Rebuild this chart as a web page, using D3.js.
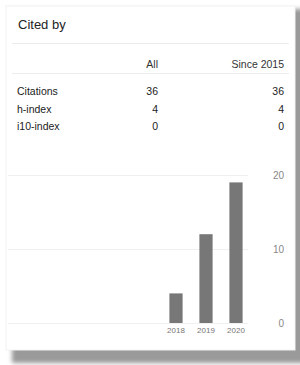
<!DOCTYPE html>
<html>
<head>
<meta charset="utf-8">
<script src="https://cdn.jsdelivr.net/npm/d3@7"></script>
<style>
  html, body { margin: 0; padding: 0; background: #fff; }
  svg { display: block; font-family: Arial, "Liberation Sans", Helvetica, sans-serif; }
</style>
</head>
<body>
<div id="chart"></div>
<script>
// table data
const columnHeaders = ["All", "Since 2015"];
const rowLabels = ["Citations", "h-index", "i10-index"];
const allValues = [36, 4, 0];
const sinceValues = [36, 4, 0];

// bar chart data
const years = ["2018", "2019", "2020"];
const citesPerYear = [4, 12, 19];
const yTicks = [0, 10, 20];

const width = 300, height = 365;

const svg = d3.select("#chart")
  .append("svg")
  .attr("width", width)
  .attr("height", height);

// drop shadow under the card
const defs = svg.append("defs");
defs.append("filter")
  .attr("id", "blur")
  .attr("x", "-10%").attr("y", "-10%")
  .attr("width", "120%").attr("height", "120%")
  .append("feGaussianBlur")
  .attr("stdDeviation", 2.2);

svg.append("rect")
  .attr("x", 12).attr("y", 9)
  .attr("width", 300).attr("height", 354)
  .attr("fill", "#9a9a9a")
  .attr("filter", "url(#blur)");

// card
svg.append("rect")
  .attr("x", 6).attr("y", 6)
  .attr("width", 289).attr("height", 344)
  .attr("fill", "#fff")
  .attr("stroke", "#f2f2f2");

// title
svg.append("text")
  .attr("x", 18).attr("y", 29)
  .attr("font-size", 13)
  .attr("fill", "#222")
  .text("Cited by");

svg.append("line")
  .attr("x1", 12).attr("x2", 289)
  .attr("y1", 43.5).attr("y2", 43.5)
  .attr("stroke", "#ececec");

// table
const colX = [158, 284];
const header = svg.append("g").attr("font-size", 10.5).attr("fill", "#333");
header.selectAll("text")
  .data(columnHeaders)
  .enter()
  .append("text")
  .attr("x", (d, i) => colX[i])
  .attr("y", 68)
  .attr("text-anchor", "end")
  .text(d => d);

svg.append("line")
  .attr("x1", 12).attr("x2", 289)
  .attr("y1", 73.5).attr("y2", 73.5)
  .attr("stroke", "#ececec");

const rowY = d3.scalePoint().domain(rowLabels).range([95, 130]);

const rows = svg.append("g")
  .attr("font-size", 10.5)
  .attr("fill", "#222")
  .selectAll("g")
  .data(rowLabels)
  .enter()
  .append("g")
  .attr("transform", d => `translate(0,${rowY(d)})`);

rows.append("text")
  .attr("x", 17)
  .text(d => d);

rows.append("text")
  .attr("x", colX[0])
  .attr("text-anchor", "end")
  .text((d, i) => allValues[i]);

rows.append("text")
  .attr("x", colX[1])
  .attr("text-anchor", "end")
  .text((d, i) => sinceValues[i]);

// bar chart
const x = d3.scaleBand()
  .domain(years)
  .range([161, 251])
  .paddingInner(0.56)
  .paddingOuter(0.28);

const y = d3.scaleLinear()
  .domain([0, 20])
  .range([323, 175]);

// gridlines
svg.append("g")
  .selectAll("line")
  .data(yTicks)
  .enter()
  .append("line")
  .attr("x1", 8).attr("x2", 248)
  .attr("y1", d => Math.round(y(d)) + 0.5)
  .attr("y2", d => Math.round(y(d)) + 0.5)
  .attr("stroke", "#f0f0f0");

// y labels on the right
svg.append("g")
  .attr("font-size", 10)
  .attr("fill", "#888")
  .selectAll("text")
  .data(yTicks)
  .enter()
  .append("text")
  .attr("x", 284)
  .attr("y", d => y(d))
  .attr("dy", "0.35em")
  .attr("text-anchor", "end")
  .text(d => d);

// bars
svg.append("g")
  .selectAll("rect")
  .data(citesPerYear)
  .enter()
  .append("rect")
  .attr("x", (d, i) => x(years[i]))
  .attr("y", d => y(d))
  .attr("width", x.bandwidth())
  .attr("height", d => y(0) - y(d))
  .attr("fill", "#777");

// year labels
svg.append("g")
  .attr("font-size", 8)
  .attr("fill", "#777")
  .selectAll("text")
  .data(years)
  .enter()
  .append("text")
  .attr("x", d => x(d) + x.bandwidth() / 2)
  .attr("y", 333)
  .attr("text-anchor", "middle")
  .text(d => d);
</script>
</body>
</html>
